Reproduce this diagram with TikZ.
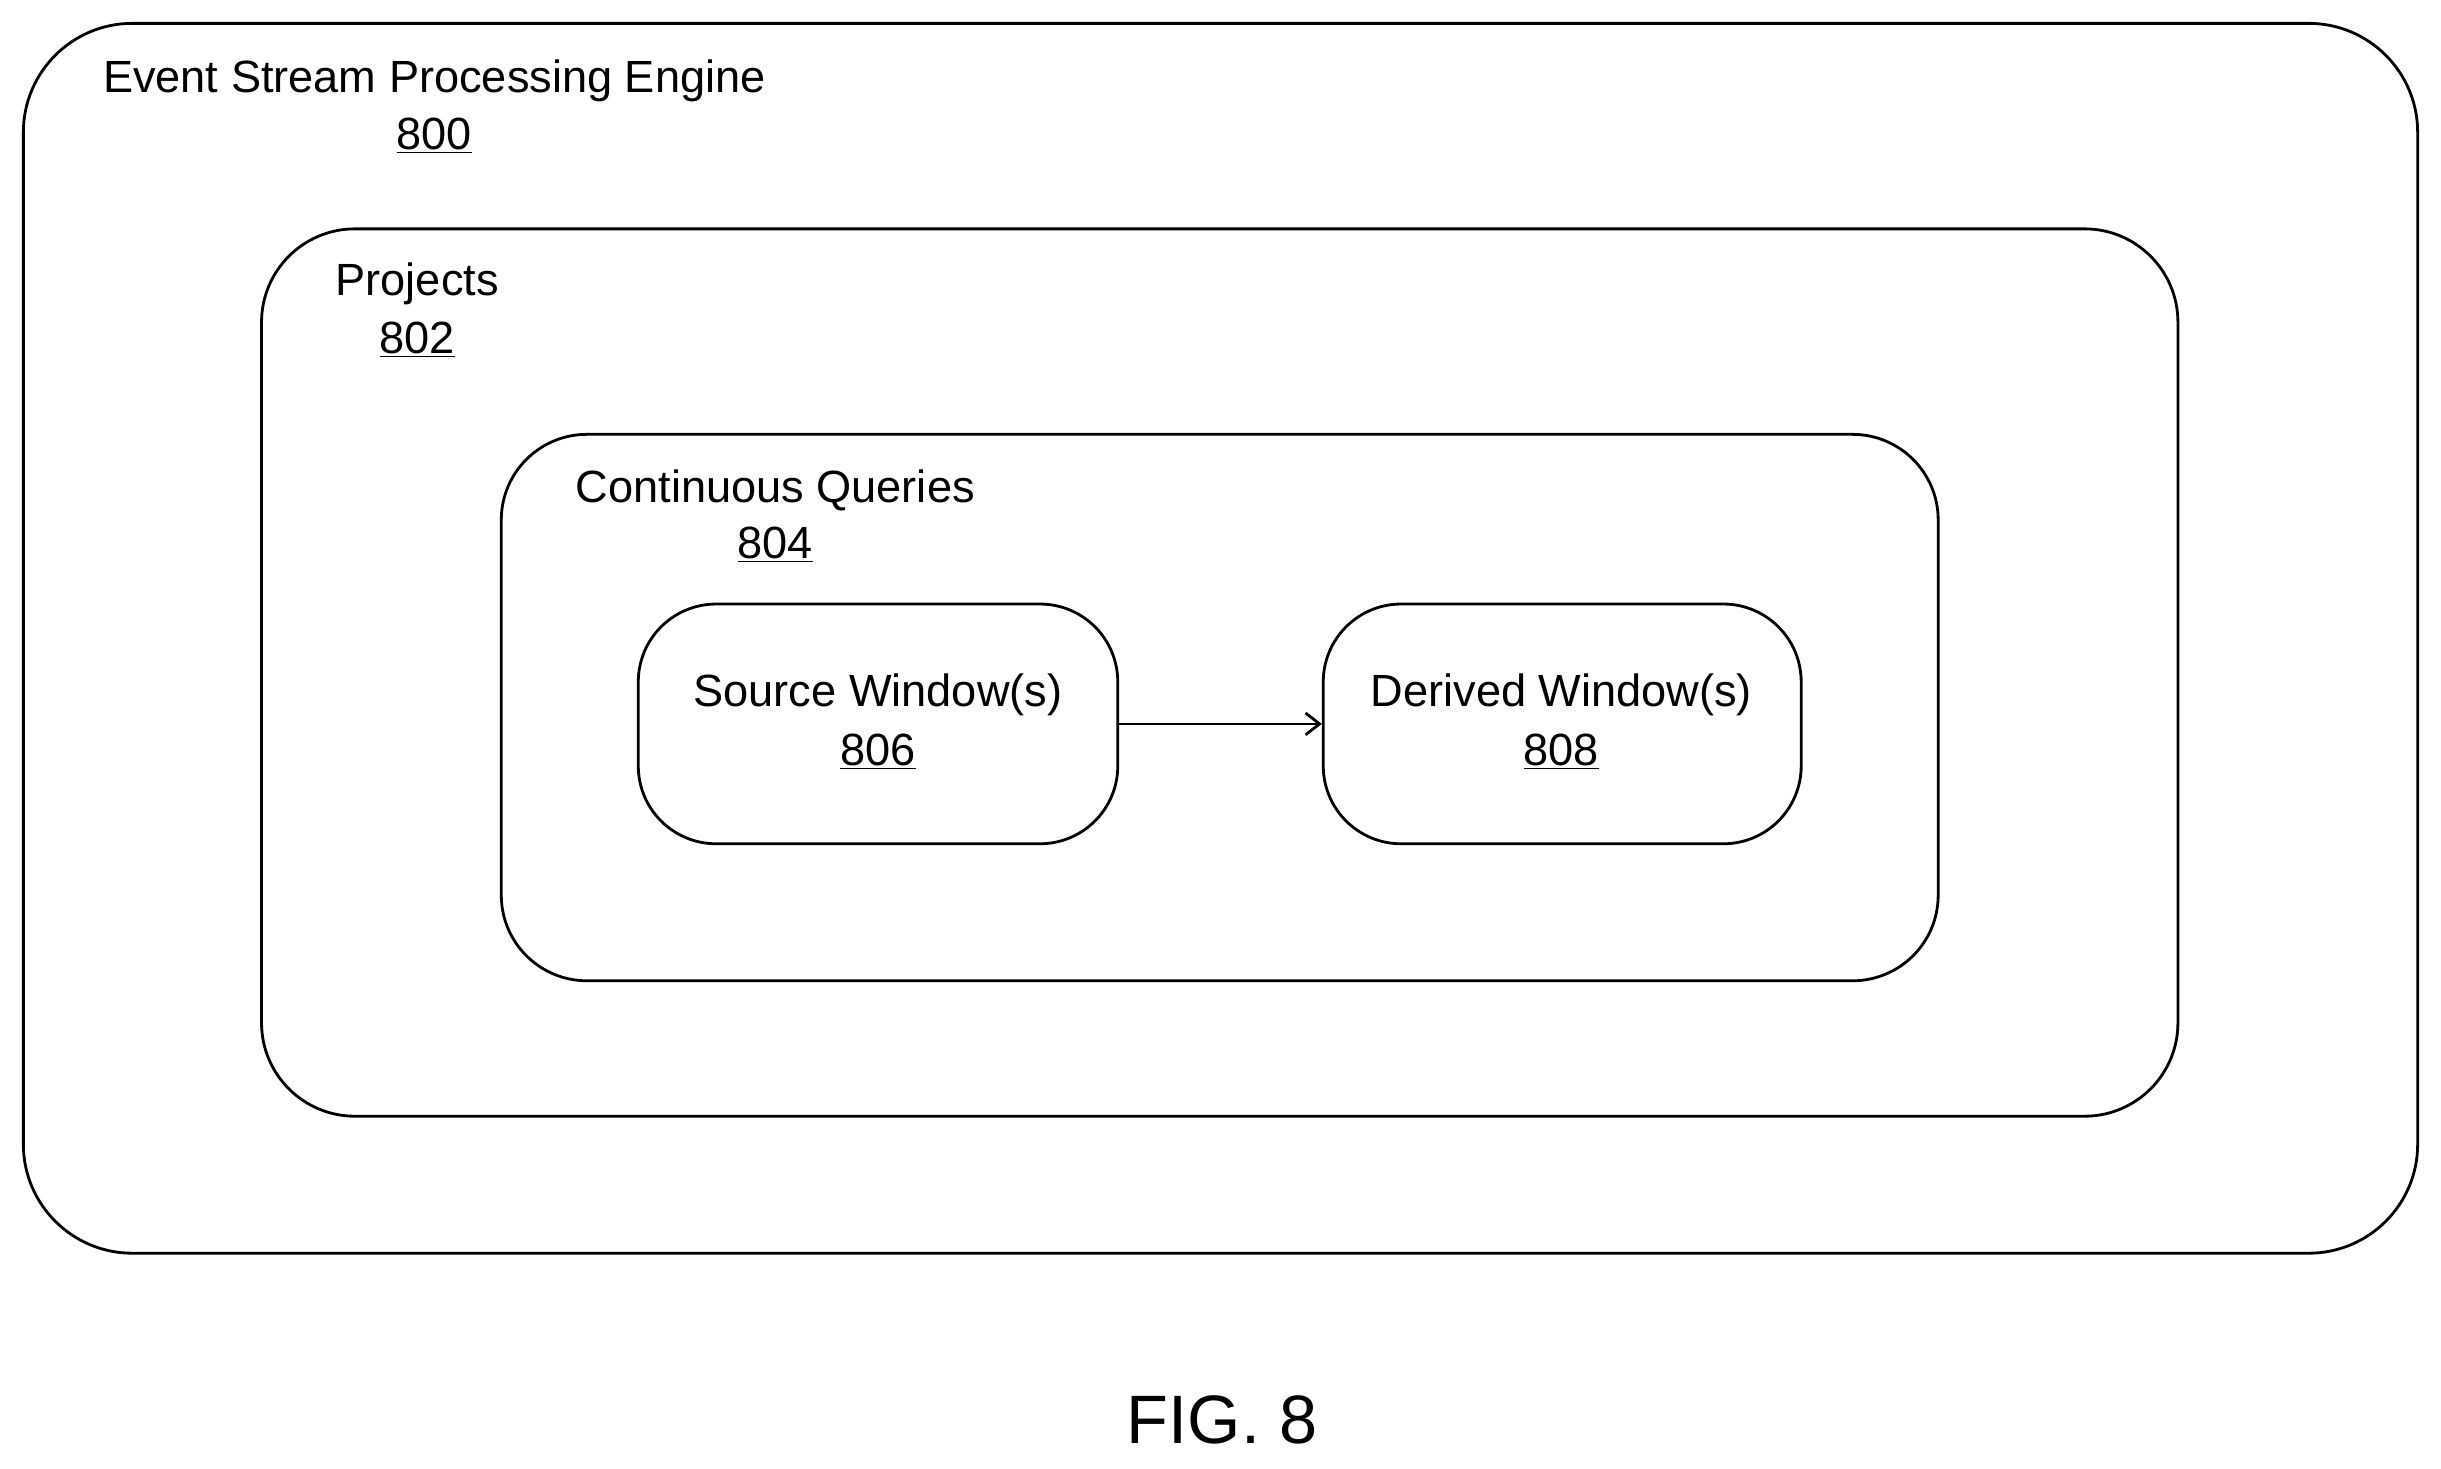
\documentclass[tikz,border=0pt]{standalone}
\usepackage{fontspec}
\setmainfont{Liberation Sans}
\usetikzlibrary{arrows.meta}
\begin{document}
\begin{tikzpicture}[x=1pt,y=-1pt,
  box/.style={draw,line width=1.8pt,rounded corners=#1},
  lbl/.style={font=\fontsize{29}{33}\selectfont,inner sep=0pt}]
\useasboundingbox[fill=white] (0,0) rectangle (1568,943);
\draw[box=70pt] (15,15) rectangle (1553,805);
\draw[box=60pt] (168,147) rectangle (1399,717);
\draw[box=55pt] (322,279) rectangle (1245,630);
\node[box=50pt,minimum width=308pt,minimum height=154pt,inner sep=0pt] (src) at (564,465) {};
\node[box=50pt,minimum width=307pt,minimum height=154pt,inner sep=0pt] (der) at (1003.5,465) {};
\draw[line width=1.8pt,-{Straight Barb[length=9pt,width=14pt]}] (src.east) -- (der.west);
\node[lbl] (t0) at (279,52) {Event Stream Processing Engine};
\node[lbl] (n0) at (279,87) {\underline{800}};
\node[lbl] (t1) at (268,182) {Projects};
\node[lbl] (n1) at (268,218) {\underline{802}};
\node[lbl] (t2) at (498,315) {Continuous Queries};
\node[lbl] (n2) at (498,350) {\underline{804}};
\node[lbl] (t3) at (564,446) {Source Window(s)};
\node[lbl] (n3) at (564,483) {\underline{806}};
\node[lbl] (t4) at (1003,446) {Derived Window(s)};
\node[lbl] (n4) at (1003,483) {\underline{808}};
\node[font=\fontsize{44}{50}\selectfont,inner sep=0pt] (fig) at (785,912) {FIG. 8};
\end{tikzpicture}
\end{document}
